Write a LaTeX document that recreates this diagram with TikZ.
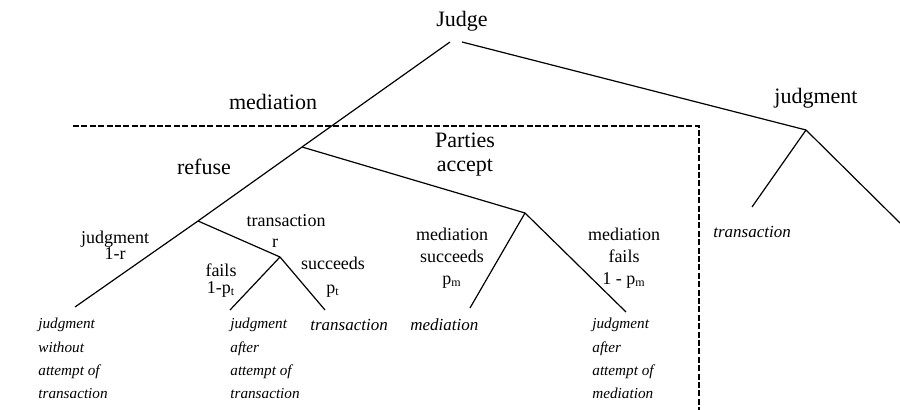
\documentclass[tikz,border=0pt]{standalone}
\usepackage{fontspec}
\setmainfont{Liberation Serif}

\begin{document}
\begin{tikzpicture}
	[x=0.5pt,y=-0.5pt,
	every node/.style={inner sep=0pt},
	branch/.style={line width=0.6pt},
	split/.style={line width=1pt,dash pattern=on 3pt off 1.2pt},
	big/.style={font=\fontsize{11}{12}\selectfont,align=center},
	small/.style={font=\fontsize{9}{11}\selectfont,align=center},
	leaf/.style={font=\fontsize{7.6}{11.6}\selectfont\itshape,align=left,anchor=north west},
	single/.style={font=\fontsize{8.5}{11}\selectfont\itshape,anchor=west}]
	\useasboundingbox (0,0) rectangle (900,410);

	\coordinate (j0) at (450,42);
	\coordinate (j1) at (462,42);
	\coordinate (pa) at (302,147);
	\coordinate (rf) at (198,221);
	\coordinate (pb) at (525,213);
	\coordinate (jd) at (806,130);
	\coordinate (tr) at (280,257);
	\coordinate (l1) at (75,307);
	\coordinate (l2) at (230,310);
	\coordinate (l3) at (325,310);
	\coordinate (l4) at (470,308);
	\coordinate (l5) at (626,312);
	\coordinate (l6) at (752,207);
	\coordinate (l7) at (900,223);
	\coordinate (d0) at (73,126);
	\coordinate (d1) at (699,126);
	\coordinate (d2) at (699,410);

	\draw[split] (d0) -- (d1) -- (d2);
	\draw[branch] (j0) -- (pa) -- (rf);
	\draw[branch] (pa) -- (pb);
	\draw[branch] (j1) -- (jd);
	\draw[branch] (rf) -- (l1);
	\draw[branch] (rf) -- (tr);
	\draw[branch] (tr) -- (l2);
	\draw[branch] (tr) -- (l3);
	\draw[branch] (pb) -- (l4);
	\draw[branch] (pb) -- (l5);
	\draw[branch] (jd) -- (l6);
	\draw[branch] (jd) -- (l7);

	\node[big] (judge) at (462,21) {Judge};
	\node[big] (med) at (273,102) {mediation};
	\node[big] (ref) at (204,167) {refuse};
	\node[big] (acc) at (465,155) {Parties\\accept};
	\node[big] (jdg) at (816,98) {judgment};

	\node[small] (tra) at (286,221) {transaction};
	\node[small] (r) at (275,243) {r};
	\node[small] (jr) at (115,245) {judgment\\[-3pt]1-r};
	\node[small] (fl) at (221,281) {fails\\[-2.5pt]1-p\textsubscript{t}};
	\node[small] (sc) at (333,277) {succeeds\\[1pt]p\textsubscript{t}};
	\node[small] (ms) at (452,258) {mediation\\succeeds\\p\textsubscript{m}};
	\node[small] (mf) at (624,258) {mediation\\fails\\1 - p\textsubscript{m}};

	\node[leaf] (o1) at (38,318) {judgment\\without\\attempt of\\transaction};
	\node[leaf] (o2) at (230,318) {judgment\\after\\attempt of\\transaction};
	\node[single] (o3) at (310,325) {transaction};
	\node[single] (o4) at (410,325) {mediation};
	\node[leaf] (o5) at (592,318) {judgment\\after\\attempt of\\mediation};
	\node[single] (o6) at (713,232) {transaction};

\end{tikzpicture}
\end{document}
